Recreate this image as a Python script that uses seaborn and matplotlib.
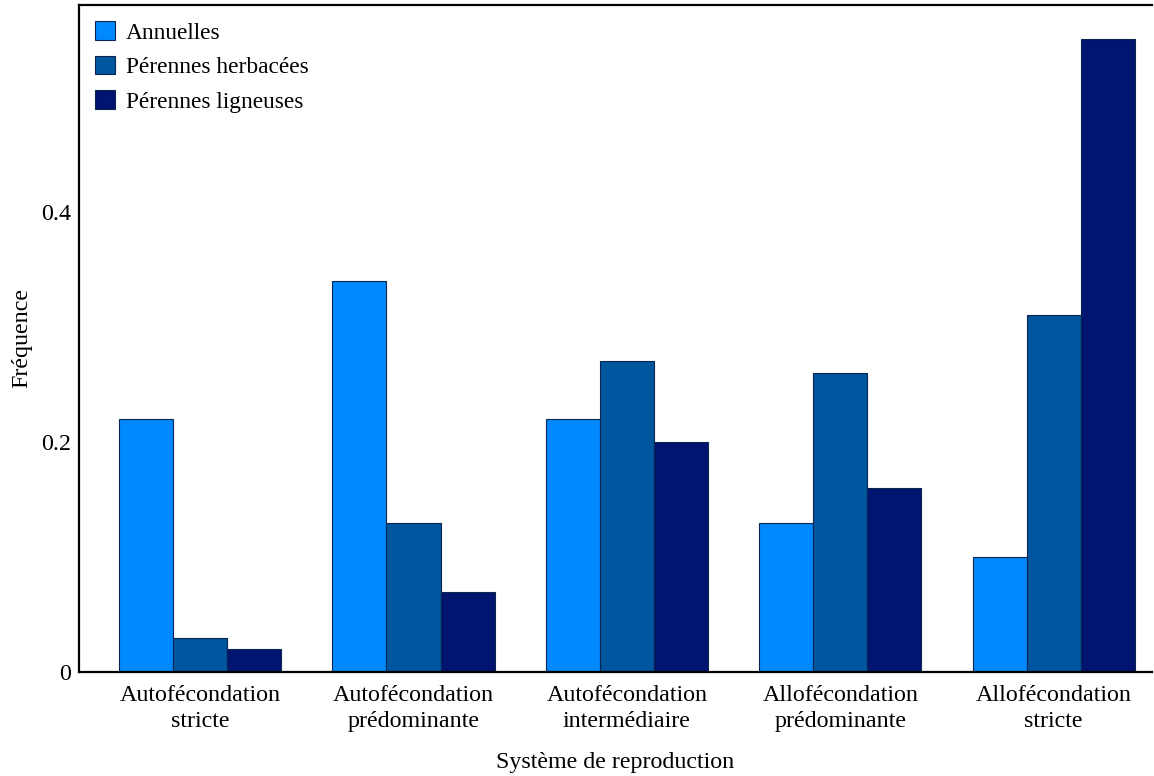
import numpy as np
import pandas as pd
import matplotlib
matplotlib.use("Agg")
import matplotlib.pyplot as plt
import seaborn as sns

# Données
categories = [
    "Autofécondation\nstricte",
    "Autofécondation\nprédominante",
    "Autofécondation\nintermédiaire",
    "Allofécondation\nprédominante",
    "Allofécondation\nstricte",
]
groupes = ["Annuelles", "Pérennes herbacées", "Pérennes ligneuses"]
annuelles = [0.22, 0.34, 0.22, 0.13, 0.10]
herbacees = [0.03, 0.13, 0.27, 0.26, 0.31]
ligneuses = [0.02, 0.07, 0.20, 0.16, 0.55]
couleurs = ["#0088FF", "#00559F", "#001470"]
yticks = [0, 0.2, 0.4]
ytick_labels = ["0", "0.2", "0.4"]

df = pd.DataFrame({
    "Système": categories * 3,
    "Groupe": [g for g in groupes for _ in categories],
    "Fréquence": annuelles + herbacees + ligneuses,
})

sns.set_style("white")
plt.rcParams["font.family"] = ["Liberation Serif", "DejaVu Serif"]
plt.rcParams["text.color"] = "black"
plt.rcParams["axes.labelcolor"] = "black"
FS = 17.3

fig = plt.figure(figsize=(11.54, 7.76), dpi=100)
ax = fig.add_axes([0.0685, 0.134, 0.9295, 0.8596])

sns.barplot(data=df, x="Système", y="Fréquence", hue="Groupe",
            palette=couleurs, width=0.76, gap=0, ax=ax,
            edgecolor="#0b2550", linewidth=0.8, saturation=1)

ax.set_xlim(-0.567, 4.459)
ax.set_ylim(0, 0.58)
ax.set_yticks(yticks)
ax.set_yticklabels(ytick_labels)
ax.set_xlabel("Système de reproduction", fontsize=FS, labelpad=14)
ax.set_ylabel("Fréquence", fontsize=FS, labelpad=6)

for s in ["left", "bottom", "top"]:
    ax.spines[s].set_color("black")
    ax.spines[s].set_linewidth(1.6)
ax.spines["right"].set_visible(False)
ax.tick_params(axis="both", direction="in", length=6, width=1.3,
               colors="black", labelsize=FS, pad=9)
ax.tick_params(axis="y", pad=6)
for lab in ax.get_xticklabels():
    lab.set_linespacing(1.35)

leg = ax.legend(loc="upper left", frameon=False, fontsize=16.8,
                handlelength=0.85, handleheight=0.85, handletextpad=0.45,
                labelspacing=0.52, borderaxespad=0.3,
                bbox_to_anchor=(0.0, 1.0))
for t in leg.get_texts():
    t.set_color("black")

fig.savefig("out.png", dpi=100)
